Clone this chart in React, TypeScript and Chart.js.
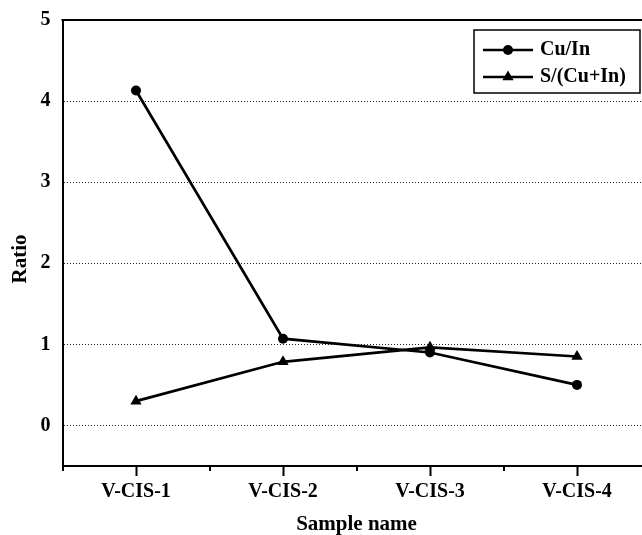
import { useEffect, useRef } from "react";
import { Chart, registerables } from "chart.js";

Chart.register(...registerables);

const categories = ["V-CIS-1", "V-CIS-2", "V-CIS-3", "V-CIS-4"];
const cuIn = [4.13, 1.07, 0.9, 0.5];
const sRatio = [0.3, 0.785, 0.963, 0.85];
const yTicks = [0, 1, 2, 3, 4, 5];
const seriesLabels = ["Cu/In", "S/(Cu+In)"];
const pointStyles = ["circle", "triangle"];
const xTitle = "Sample name";
const yTitle = "Ratio";

const FONT = "'Liberation Serif', 'Times New Roman', serif";

const framePlugin = {
  id: "frame",
  afterDraw(chart: any) {
    const { ctx, chartArea } = chart;
    const x = chart.scales.x;
    ctx.save();
    ctx.strokeStyle = "#000";
    // top frame line
    ctx.lineWidth = 2;
    ctx.beginPath();
    ctx.moveTo(chartArea.left - 1, chartArea.top);
    ctx.lineTo(chartArea.right, chartArea.top);
    ctx.stroke();
    // minor ticks at category boundaries
    const step = x.getPixelForValue(1) - x.getPixelForValue(0);
    for (let i = 0; i <= categories.length; i++) {
      const px = Math.round(x.getPixelForValue(i) - step / 2);
      ctx.beginPath();
      ctx.moveTo(px, chartArea.bottom);
      ctx.lineTo(px, chartArea.bottom + 5);
      ctx.stroke();
    }
    // y title
    ctx.save();
    ctx.fillStyle = "#000";
    ctx.font = `bold 21px ${FONT}`;
    ctx.textAlign = "center";
    ctx.textBaseline = "middle";
    ctx.translate(21, 259);
    ctx.rotate(-Math.PI / 2);
    ctx.fillText(yTitle, 0, 0);
    ctx.restore();
    // legend
    const bx = 474, by = 30, bw = 166, bh = 63;
    ctx.lineWidth = 1.5;
    ctx.strokeRect(bx, by, bw, bh);
    const rows = [by + 20, by + 47];
    chart.data.datasets.forEach((ds: any, i: number) => {
      const y = rows[i];
      ctx.lineWidth = 2.5;
      ctx.beginPath();
      ctx.moveTo(bx + 9, y);
      ctx.lineTo(bx + 59, y);
      ctx.stroke();
      ctx.fillStyle = "#000";
      if (ds.pointStyle === "circle") {
        ctx.beginPath();
        ctx.arc(bx + 34, y, ds.pointRadius, 0, Math.PI * 2);
        ctx.fill();
      } else {
        const r = ds.pointRadius;
        ctx.beginPath();
        ctx.moveTo(bx + 34, y - r);
        ctx.lineTo(bx + 34 + r * Math.sin((2 * Math.PI) / 3), y - r * Math.cos((2 * Math.PI) / 3));
        ctx.lineTo(bx + 34 + r * Math.sin((4 * Math.PI) / 3), y - r * Math.cos((4 * Math.PI) / 3));
        ctx.closePath();
        ctx.fill();
      }
      ctx.font = `bold 20px ${FONT}`;
      ctx.textBaseline = "middle";
      ctx.textAlign = "left";
      ctx.fillText(ds.label, bx + 66, y);
    });
    ctx.restore();
  },
};

export default function App() {
  const ref = useRef<HTMLCanvasElement | null>(null);

  useEffect(() => {
    if (!ref.current) return;
    const chart = new Chart(ref.current, {
      type: "line",
      data: {
        labels: categories,
        datasets: [cuIn, sRatio].map((d, i) => ({
          label: seriesLabels[i],
          data: d,
          borderColor: "#000",
          backgroundColor: "#000",
          borderWidth: 2.7,
          pointStyle: pointStyles[i] as any,
          pointRadius: i === 0 ? 5 : 6.5,
          pointBorderWidth: 0,
          pointBackgroundColor: "#000",
          tension: 0,
          fill: false,
        })),
      },
      options: {
        responsive: false,
        animation: false,
        devicePixelRatio: 1,
        layout: { padding: { top: 20, right: 9.5, left: 0, bottom: 0 } },
        plugins: {
          legend: { display: false },
          tooltip: { enabled: false },
        },
        scales: {
          x: {
            type: "category",
            offset: true,
            grid: {
              display: true,
              drawOnChartArea: false,
              offset: false,
              tickLength: 10,
              tickWidth: 2,
              tickColor: "#000",
              color: "#000",
            },
            border: { display: true, width: 2, color: "#000" },
            ticks: {
              color: "#000",
              padding: 4,
              maxRotation: 0,
              font: { family: FONT, size: 20, weight: "bold" },
            },
            title: {
              display: true,
              text: xTitle,
              color: "#000",
              padding: { top: 0, bottom: -2 },
              font: { family: FONT, size: 21, weight: "bold" },
            },
            afterFit(scale: any) {
              scale.height = 69;
              scale.paddingLeft = 0;
              scale.paddingRight = 0;
            },
          },
          y: {
            type: "linear",
            min: -0.5,
            max: 5,
            afterBuildTicks(scale: any) {
              scale.ticks = yTicks.map((v) => ({ value: v }));
            },
            grid: {
              drawTicks: false,
              lineWidth: 1,
              color: (c: any) => (c.tick && c.tick.value === 5 ? "rgba(0,0,0,0)" : "#222"),
            },
            border: { display: true, width: 2, color: "#000", dash: [1, 2] },
            ticks: {
              color: "#000",
              padding: 12,
              font: { family: FONT, size: 20, weight: "bold" },
            },
            title: { display: false },
            afterFit(scale: any) {
              scale.width = 62.5;
              scale.paddingTop = 0;
              scale.paddingBottom = 0;
            },
          },
        },
      },
      plugins: [framePlugin],
    });
    return () => chart.destroy();
  }, []);

  return (
    <div
      style={{
        position: "fixed",
        left: 0,
        top: 0,
        width: 642,
        height: 535,
        overflow: "hidden",
        background: "#fff",
      }}
    >
      <canvas ref={ref} width={660} height={535} style={{ display: "block", width: 660, height: 535 }} />
    </div>
  );
}
